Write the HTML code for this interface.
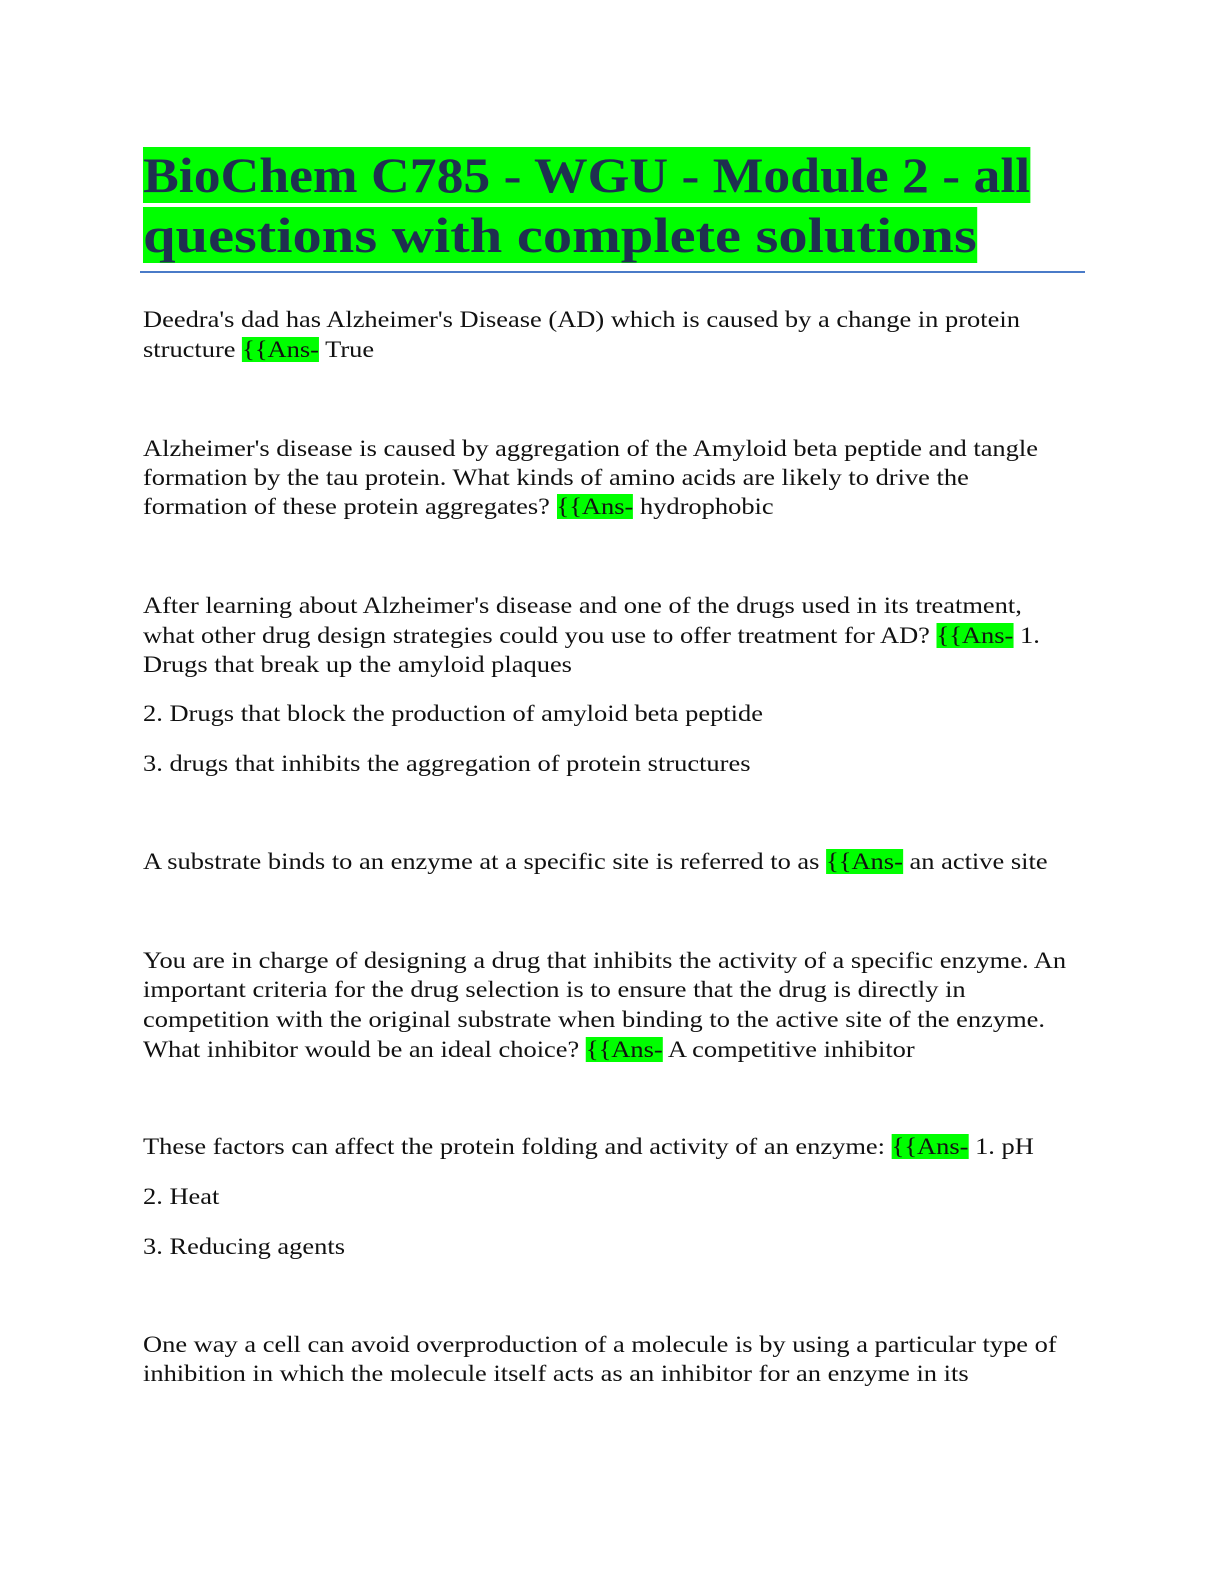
<!DOCTYPE html>
<html><head><meta charset="utf-8"><style>
body{margin:0;width:1224px;height:1584px;background:#fff;position:relative;overflow:hidden}
.t{position:absolute;left:143px;font:bold 50px/60px "Liberation Serif",serif;color:#1f3050;white-space:nowrap;transform-origin:0 0}
.t span{background:#00ff00}
.l{position:absolute;left:143px;font:23px/29px "Liberation Serif",serif;color:#111;white-space:nowrap;transform:scaleX(1.15);transform-origin:0 0}
.h{background:#00ff00}
</style></head><body>
<div class="t" style="top:145px;transform:scaleX(1.073)"><span>BioChem C785 - WGU - Module 2 - all</span></div>
<div class="t" style="top:205px;transform:scaleX(1.17)"><span>questions with complete solutions</span></div>
<div style="position:absolute;left:140px;top:271px;width:945px;height:2px;background:#4a7bc8"></div>
<div class="l" style="top:305px">Deedra's dad has Alzheimer's Disease (AD) which is caused by a change in protein</div>
<div class="l" style="top:335px">structure <span class="h">{{Ans-</span> True</div>
<div class="l" style="top:434px">Alzheimer's disease is caused by aggregation of the Amyloid beta peptide and tangle</div>
<div class="l" style="top:463px">formation by the tau protein. What kinds of amino acids are likely to drive the</div>
<div class="l" style="top:492px">formation of these protein aggregates? <span class="h">{{Ans-</span> hydrophobic</div>
<div class="l" style="top:591px">After learning about Alzheimer's disease and one of the drugs used in its treatment,</div>
<div class="l" style="top:621px">what other drug design strategies could you use to offer treatment for AD? <span class="h">{{Ans-</span> 1.</div>
<div class="l" style="top:650px">Drugs that break up the amyloid plaques</div>
<div class="l" style="top:699px">2. Drugs that block the production of amyloid beta peptide</div>
<div class="l" style="top:749px">3. drugs that inhibits the aggregation of protein structures</div>
<div class="l" style="top:847px">A substrate binds to an enzyme at a specific site is referred to as <span class="h">{{Ans-</span> an active site</div>
<div class="l" style="top:946px">You are in charge of designing a drug that inhibits the activity of a specific enzyme. An</div>
<div class="l" style="top:975px">important criteria for the drug selection is to ensure that the drug is directly in</div>
<div class="l" style="top:1005px">competition with the original substrate when binding to the active site of the enzyme.</div>
<div class="l" style="top:1035px">What inhibitor would be an ideal choice? <span class="h">{{Ans-</span> A competitive inhibitor</div>
<div class="l" style="top:1132px">These factors can affect the protein folding and activity of an enzyme: <span class="h">{{Ans-</span> 1. pH</div>
<div class="l" style="top:1182px">2. Heat</div>
<div class="l" style="top:1232px">3. Reducing agents</div>
<div class="l" style="top:1330px">One way a cell can avoid overproduction of a molecule is by using a particular type of</div>
<div class="l" style="top:1359px">inhibition in which the molecule itself acts as an inhibitor for an enzyme in its</div>
</body></html>
